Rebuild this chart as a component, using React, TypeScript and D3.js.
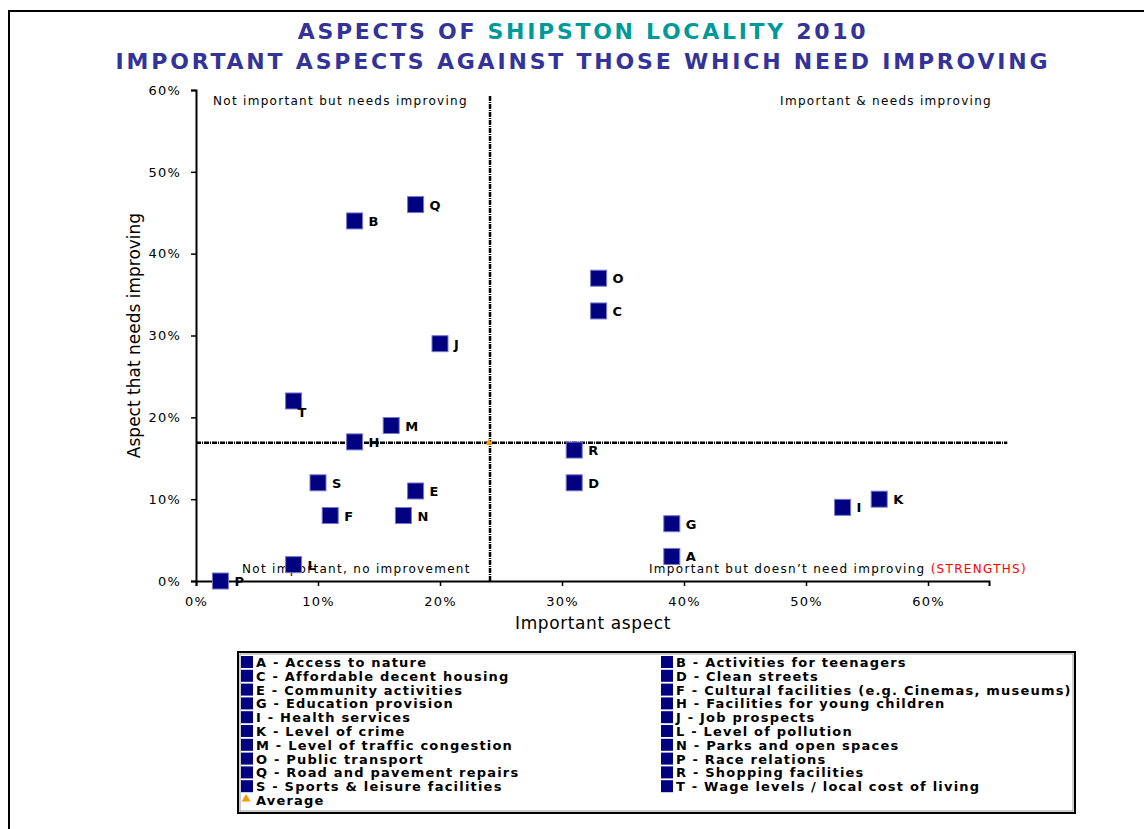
import React, { useEffect, useRef } from 'react';
import * as d3 from 'd3';

// aspect codes and what they stand for
const codes = ['A', 'B', 'C', 'D', 'E', 'F', 'G', 'H', 'I', 'J', 'K', 'L', 'M', 'N', 'O', 'P', 'Q', 'R', 'S', 'T'];
const descriptions = [
  'Access to nature',
  'Activities for teenagers',
  'Affordable decent housing',
  'Clean streets',
  'Community activities',
  'Cultural facilities (e.g. Cinemas, museums)',
  'Education provision',
  'Facilities for young children',
  'Health services',
  'Job prospects',
  'Level of crime',
  'Level of pollution',
  'Level of traffic congestion',
  'Parks and open spaces',
  'Public transport',
  'Race relations',
  'Road and pavement repairs',
  'Shopping facilities',
  'Sports & leisure facilities',
  'Wage levels / local cost of living',
];
// x: important aspect, y: aspect that needs improving
const important = [0.39, 0.13, 0.33, 0.31, 0.18, 0.11, 0.39, 0.13, 0.53, 0.2, 0.56, 0.08, 0.16, 0.17, 0.33, 0.02, 0.18, 0.31, 0.1, 0.08];
const needsImproving = [0.03, 0.44, 0.33, 0.12, 0.11, 0.08, 0.07, 0.17, 0.09, 0.29, 0.1, 0.02, 0.19, 0.08, 0.37, 0.0, 0.46, 0.16, 0.12, 0.22];
const avgImportant = 0.241;
const avgNeedsImproving = 0.169;

const xTicks = [0, 0.1, 0.2, 0.3, 0.4, 0.5, 0.6];
const yTicks = [0, 0.1, 0.2, 0.3, 0.4, 0.5, 0.6];

const FONT = '"DejaVu Sans", Verdana, sans-serif';
const NAVY = '#000080';

export default function App() {
  const ref = useRef<SVGSVGElement>(null);

  useEffect(() => {
    document.body.style.margin = '0';
    const width = 1144;
    const height = 829;
    const svg = d3.select(ref.current);
    svg.selectAll('*').remove();
    svg.attr('width', width).attr('height', height).style('font-family', FONT);

    // outer frame
    svg.append('rect').attr('x', 9).attr('y', 11).attr('width', 1160).attr('height', 840)
      .attr('fill', '#fff').attr('stroke', '#000').attr('stroke-width', 2);

    // title
    const t1 = svg.append('text').attr('x', 583).attr('y', 39).attr('text-anchor', 'middle')
      .style('font-size', '22px').style('font-weight', 'bold').style('letter-spacing', '2.7px');
    t1.append('tspan').attr('fill', '#333399').text('ASPECTS OF ');
    t1.append('tspan').attr('fill', '#009999').text('SHIPSTON LOCALITY');
    t1.append('tspan').attr('fill', '#333399').text(' 2010');
    svg.append('text').attr('x', 583).attr('y', 69).attr('text-anchor', 'middle')
      .attr('fill', '#333399').style('font-size', '22px').style('font-weight', 'bold')
      .style('letter-spacing', '2.8px')
      .text('IMPORTANT ASPECTS AGAINST THOSE WHICH NEED IMPROVING');

    const x = d3.scaleLinear().domain([0, 0.65]).range([196, 989]);
    const y = d3.scaleLinear().domain([0, 0.6]).range([581, 90]);
    const pct = (d: number) => `${Math.round(d * 100)}%`;

    // axes
    const gx = svg.append('g').attr('transform', `translate(0,${y(0)})`)
      .call(d3.axisBottom(x).tickValues(xTicks).tickFormat(pct as any).tickSize(5).tickPadding(8));
    const gy = svg.append('g').attr('transform', `translate(${x(0)},0)`)
      .call(d3.axisLeft(y).tickValues(yTicks).tickFormat(pct as any).tickSize(5).tickPadding(10));
    [gx, gy].forEach(g => {
      g.select('.domain').attr('stroke', '#000').attr('stroke-width', 2);
      g.selectAll('.tick line').attr('stroke', '#000').attr('stroke-width', 1.5);
      g.selectAll('.tick text').attr('fill', '#000').style('font-family', FONT)
        .style('font-size', '13px').style('letter-spacing', '1.2px');
    });
    gx.selectAll('.tick text').attr('dy', '0.9em');

    // axis titles
    svg.append('text').attr('x', 593).attr('y', 629).attr('text-anchor', 'middle')
      .style('font-size', '17px').style('letter-spacing', '0.6px').text('Important aspect');
    svg.append('text').attr('transform', `translate(140,${y(0.3)}) rotate(-90)`)
      .attr('text-anchor', 'middle').style('font-size', '17px').text('Aspect that needs improving');

    // average lines
    svg.append('line').attr('x1', x(0)).attr('x2', x(0.665))
      .attr('y1', y(avgNeedsImproving)).attr('y2', y(avgNeedsImproving))
      .attr('stroke', '#000').attr('stroke-width', 2.5).attr('stroke-dasharray', '5,1,1,1');
    svg.append('line').attr('x1', x(avgImportant)).attr('x2', x(avgImportant))
      .attr('y1', y(0)).attr('y2', y(0.594))
      .attr('stroke', '#000').attr('stroke-width', 2.5).attr('stroke-dasharray', '5,1,1,1');

    // quadrant captions
    const cap = (tx: number, ty: number, anchor: string, s: string) =>
      svg.append('text').attr('x', tx).attr('y', ty).attr('text-anchor', anchor)
        .style('font-size', '12px').style('letter-spacing', '1.3px').text(s);
    cap(213, 105, 'start', 'Not important but needs improving');
    cap(992, 105, 'end', 'Important & needs improving');
    cap(242, 573, 'start', 'Not important, no improvement');
    const strong = cap(1027, 573, 'end', 'Important but doesn\u2019t need improving ');
    strong.append('tspan').attr('fill', '#ff0000').text('(STRENGTHS)');

    // points
    const data = codes.map((c, i) => ({ c, x: important[i], y: needsImproving[i] }));
    const s = 16;
    svg.append('g').selectAll('rect').data(data).enter().append('rect')
      .attr('x', d => x(d.x) - s / 2).attr('y', d => y(d.y) - s / 2)
      .attr('width', s).attr('height', s)
      .attr('fill', NAVY).attr('stroke', '#7777cc').attr('stroke-width', 1);
    svg.append('g').selectAll('text').data(data).enter().append('text')
      .attr('x', d => x(d.x) + (d.c === 'T' ? 4 : 14))
      .attr('y', d => y(d.y) + (d.c === 'T' ? 16 : 5))
      .style('font-size', '13px').style('font-weight', 'bold').text(d => d.c);

    // average marker
    const tri = d3.symbol().type(d3.symbolTriangle).size(22);
    svg.append('path').attr('d', tri() as string)
      .attr('transform', `translate(${x(avgImportant) - 1},${y(avgNeedsImproving)})`)
      .attr('fill', '#ff9900');

    // legend
    const lg = svg.append('g');
    lg.append('rect').attr('x', 238).attr('y', 652).attr('width', 837).attr('height', 161)
      .attr('fill', '#fff').attr('stroke', '#000').attr('stroke-width', 2);
    lg.append('rect').attr('x', 240).attr('y', 654).attr('width', 833).attr('height', 157)
      .attr('fill', 'none').attr('stroke', '#999').attr('stroke-width', 1);
    const row = d3.scaleLinear().domain([0, 10]).range([662, 800]);
    codes.forEach((c, i) => {
      const col = i % 2;
      const r = Math.floor(i / 2);
      const lx = col === 0 ? 241 : 661;
      const ly = row(r);
      lg.append('rect').attr('x', lx).attr('y', ly - 6).attr('width', 12).attr('height', 12)
        .attr('fill', NAVY);
      lg.append('text').attr('x', lx + 15).attr('y', ly + 5)
        .style('font-size', '13px').style('font-weight', 'bold').style('letter-spacing', '1.2px')
        .text(`${c} - ${descriptions[i]}`);
    });
    const ay = row(10);
    lg.append('path').attr('d', d3.symbol().type(d3.symbolTriangle).size(34)() as string)
      .attr('transform', `translate(246,${ay - 1})`).attr('fill', '#ff9900');
    lg.append('text').attr('x', 256).attr('y', ay + 5)
      .style('font-size', '13px').style('font-weight', 'bold').style('letter-spacing', '1.2px')
      .text('Average');
  }, []);

  return <svg ref={ref} />;
}
